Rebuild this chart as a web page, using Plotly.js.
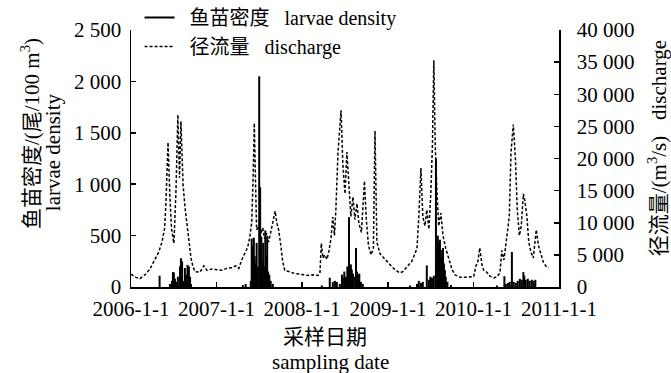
<!DOCTYPE html>
<html><head><meta charset="utf-8">
<script src="https://cdn.plot.ly/plotly-3.0.1.min.js"></script>
<style>html,body{margin:0;padding:0;background:#fff}#c{width:671px;height:373px}</style>
</head><body><div id="c"></div>
<script>
const dischargeDates = [
"2006-01-01","2006-01-22","2006-02-08","2006-03-02","2006-03-23","2006-04-13","2006-04-30","2006-05-13","2006-05-24","2006-05-30","2006-06-08","2006-06-16","2006-06-23","2006-07-03","2006-07-12","2006-07-20","2006-07-27","2006-08-02","2006-08-11","2006-08-19","2006-08-28","2006-09-05","2006-09-14","2006-09-22","2006-10-01","2006-10-22","2006-11-08","2006-11-21","2006-12-12",
"2007-01-01","2007-01-24","2007-02-14","2007-03-07","2007-03-24","2007-04-06","2007-04-18","2007-05-01","2007-05-14","2007-05-22","2007-05-31","2007-06-06","2007-06-11","2007-06-17","2007-06-21","2007-06-30","2007-07-08","2007-07-17","2007-07-25","2007-08-03","2007-08-11","2007-08-20","2007-08-28","2007-09-08","2007-09-15","2007-09-23","2007-10-02","2007-10-10","2007-10-19","2007-11-09","2007-12-01","2007-12-22",
"2008-01-26","2008-02-16","2008-03-08","2008-03-17","2008-03-23","2008-03-30","2008-04-07","2008-04-16","2008-04-24","2008-05-03","2008-05-11","2008-05-18","2008-05-24","2008-06-02","2008-06-15","2008-06-23","2008-07-02","2008-07-10","2008-07-19","2008-07-27","2008-08-05","2008-08-13","2008-08-22","2008-08-30","2008-09-10","2008-09-23","2008-10-01","2008-10-10","2008-10-21","2008-10-31","2008-11-07","2008-11-15","2008-11-28","2008-12-15","2008-12-31",
"2009-01-22","2009-02-08","2009-02-21","2009-03-06","2009-03-19","2009-04-01","2009-04-13","2009-04-22","2009-05-05","2009-05-13","2009-05-22","2009-05-30","2009-06-08","2009-06-16","2009-06-25","2009-07-03","2009-07-10","2009-07-16","2009-07-22","2009-07-29","2009-08-06","2009-08-15","2009-08-24","2009-09-05","2009-09-18","2009-10-01","2009-10-14","2009-11-04","2009-11-25","2009-12-17",
"2010-01-02","2010-01-11","2010-01-20","2010-01-28","2010-02-06","2010-02-14","2010-02-27","2010-03-12","2010-03-29","2010-04-11","2010-04-24","2010-05-02","2010-05-11","2010-05-19","2010-05-28","2010-06-03","2010-06-10","2010-06-20","2010-06-29","2010-07-07","2010-07-16","2010-07-24","2010-08-02","2010-08-08","2010-08-17","2010-08-25","2010-09-03","2010-09-13","2010-09-26","2010-10-05","2010-10-15","2010-10-28","2010-11-10","2010-11-18"];
const dischargeValues = [
2000,1500,1300,1900,2800,4200,5500,7000,9000,13000,22500,14000,9000,6800,15000,26800,17000,25800,16000,12500,9500,7000,4500,3200,2400,2300,3300,2600,2800,
2700,2600,2900,3000,3300,2900,4200,5300,6200,7600,10000,17000,25500,15000,8900,9500,8200,9200,7500,8400,7000,8500,9800,11800,10000,8900,6500,4000,2600,2300,2100,2000,
1800,1900,1800,2100,6800,4500,5000,4300,5500,7500,10900,8000,12000,20800,27500,19000,14500,21000,15500,11000,14000,10500,13000,10000,8500,16500,10500,6500,5000,6000,24300,7000,5200,4500,4000,
3000,2500,2200,2400,3000,3500,4000,4800,6000,11000,18500,11000,9500,12000,9000,14500,22000,35300,22000,15000,9500,11500,8000,6000,4200,2800,1900,1500,1500,1500,
1600,3200,4000,6100,3500,2600,2300,1700,1400,1600,2200,5700,4200,6500,9500,11000,20800,25300,20000,12000,8000,9500,14500,13500,11000,7000,5500,4500,8900,6500,5200,3700,3100,3000];

const densityDates = [
"2006-05-03","2006-06-16","2006-06-25","2006-06-29","2006-07-03","2006-07-08","2006-07-14","2006-07-20","2006-07-29","2006-08-02","2006-08-07","2006-08-11","2006-08-19","2006-08-24","2006-08-30","2006-09-05","2006-09-10","2006-09-14",
"2007-04-23","2007-05-05","2007-05-27","2007-05-31","2007-06-04","2007-06-09","2007-06-13","2007-06-17","2007-06-21","2007-06-26","2007-07-02","2007-07-06","2007-07-11","2007-07-15","2007-07-19","2007-07-23","2007-07-28","2007-08-01","2007-08-05","2007-08-09","2007-08-14","2007-08-20","2007-08-29",
"2008-03-25","2008-04-28","2008-05-11","2008-05-20","2008-05-28","2008-06-10","2008-06-19","2008-06-23","2008-06-29","2008-07-06","2008-07-12","2008-07-19","2008-07-23","2008-07-27","2008-07-31","2008-08-05","2008-08-09","2008-08-18","2008-08-22","2008-08-26","2008-09-01","2008-09-08","2008-09-16",
"2009-04-05","2009-05-05","2009-05-13","2009-05-22","2009-05-30","2009-06-16","2009-06-25","2009-07-01","2009-07-08","2009-07-16","2009-07-25","2009-07-29","2009-08-02","2009-08-07","2009-08-11","2009-08-15","2009-08-19","2009-08-24","2009-08-28","2009-09-01","2009-09-05","2009-09-12","2009-09-27",
"2010-04-11","2010-05-13","2010-05-19","2010-05-28","2010-06-05","2010-06-14","2010-06-22","2010-07-01","2010-07-09","2010-07-18","2010-07-26","2010-08-02","2010-08-06","2010-08-12","2010-08-21","2010-08-29","2010-09-07","2010-09-15","2010-09-22"];
const densityValues = [
110,30,60,145,140,80,50,100,200,280,250,60,185,120,215,200,100,30,
20,30,60,470,400,480,300,230,430,200,2050,970,490,250,430,200,550,300,490,150,120,60,30,
15,90,50,60,50,30,120,90,150,100,200,680,150,220,170,130,100,380,150,120,130,50,30,
15,30,60,40,50,210,70,100,90,110,1250,200,500,440,460,360,290,380,230,165,100,50,20,
15,105,30,40,50,340,50,40,60,80,70,145,110,70,80,60,70,60,70];

const yTickVals = [0,500,1000,1500,2000,2500];
const yTickText = ["0","500","1 000","1 500","2 000","2 500"];
const y2TickVals = [0,5000,10000,15000,20000,25000,30000,35000,40000];
const y2TickText = ["0","5 000","10 000","15 000","20 000","25 000","30 000","35 000","40 000"];
const xTickVals = ["2006-01-01","2007-01-01","2008-01-01","2009-01-01","2010-01-01","2011-01-01"];
const xTickText = ["2006-1-1","2007-1-1","2008-1-1","2009-1-1","2010-1-1","2011-1-1"];

const stemX = [], stemY = [];
densityDates.forEach((d, i) => { stemX.push(d, d, null); stemY.push(0, densityValues[i], null); });

const FONT = '"Times New Roman", "Liberation Serif", "Noto Sans CJK SC", serif';
const NB = "\u00a0";
const BLACK = '#000000';

const traces = [
  {x: stemX, y: stemY, type: 'scatter', mode: 'lines', name: NB + NB + '鱼苗密度' + NB + NB + NB + 'larvae density',
   line: {color: BLACK, width: 2}, connectgaps: false, yaxis: 'y'},
  {x: dischargeDates, y: dischargeValues, type: 'scatter', mode: 'lines', name: NB + NB + '径流量' + NB + NB + NB + 'discharge',
   line: {color: BLACK, width: 1.5, dash: '3px,2px'}, yaxis: 'y2'}
];

const axisCommon = {showline: true, linecolor: BLACK, linewidth: 1.5, ticks: 'inside', ticklen: 5,
  tickcolor: BLACK, tickwidth: 1.5, showgrid: false, zeroline: false, tickfont: {family: FONT, size: 21, color: BLACK}};

const layout = {
  width: 671, height: 373,
  margin: {l: 131, r: 112, t: 30, b: 86, autoexpand: false},
  paper_bgcolor: '#fff', plot_bgcolor: '#fff',
  font: {family: FONT, size: 21, color: BLACK},
  showlegend: true,
  legend: {x: 0.02, y: 1.125, xanchor: 'left', yanchor: 'top', bgcolor: 'rgba(0,0,0,0)',
    font: {family: FONT, size: 20, color: BLACK}, tracegroupgap: 0},
  xaxis: Object.assign({}, axisCommon, {type: 'date', range: ['2006-01-01', '2011-01-01'],
    tickmode: 'array', tickvals: xTickVals, ticktext: xTickText, ticklabelstandoff: 2}),
  yaxis: Object.assign({}, axisCommon, {range: [0, 2500], tickmode: 'array', tickvals: yTickVals, ticktext: yTickText,
    ticklabelstandoff: 4}),
  yaxis2: Object.assign({}, axisCommon, {overlaying: 'y', side: 'right', range: [0, 40000],
    tickmode: 'array', tickvals: y2TickVals, ticktext: y2TickText, ticklabelstandoff: 12}),
  annotations: [
    {xref: 'paper', yref: 'paper', x: -0.236, y: 0.599, xanchor: 'center', yanchor: 'middle', textangle: -90,
     showarrow: false, text: '鱼苗密度/(尾/100' + NB + 'm<sup>3</sup>)', font: {family: FONT, size: 21, color: BLACK}},
    {xref: 'paper', yref: 'paper', x: -0.182, y: 0.525, xanchor: 'center', yanchor: 'middle', textangle: -90,
     showarrow: false, text: 'larvae density', font: {family: FONT, size: 21, color: BLACK}},
    {xref: 'paper', yref: 'paper', x: 1.232, y: 0.541, xanchor: 'center', yanchor: 'middle', textangle: -90,
     showarrow: false, text: '径流量/(m<sup>3</sup>/s)' + NB + NB + NB + 'discharge', font: {family: FONT, size: 21, color: BLACK}},
    {xref: 'paper', yref: 'paper', x: 0.453, y: -0.195, xanchor: 'center', yanchor: 'middle',
     showarrow: false, text: '采样日期', font: {family: FONT, size: 21, color: BLACK}},
    {xref: 'paper', yref: 'paper', x: 0.465, y: -0.292, xanchor: 'center', yanchor: 'middle',
     showarrow: false, text: 'sampling date', font: {family: FONT, size: 21, color: BLACK}}
  ]
};

Plotly.newPlot('c', traces, layout, {displayModeBar: false, staticPlot: true});
</script>
</body></html>
